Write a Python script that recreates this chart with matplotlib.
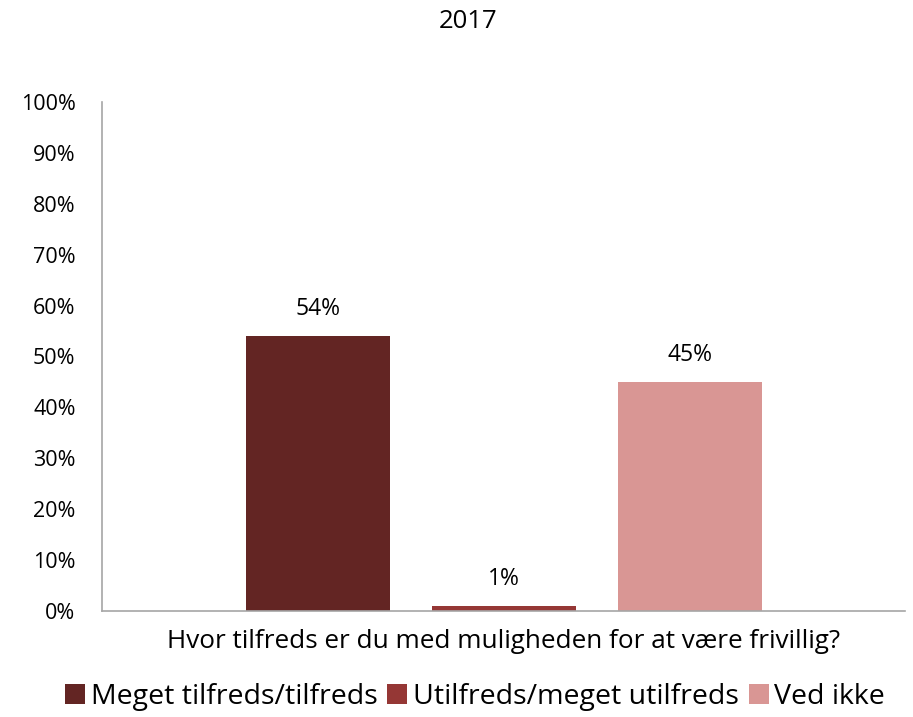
import matplotlib
matplotlib.use("Agg")
import matplotlib.pyplot as plt
from matplotlib.ticker import PercentFormatter

title = "2017"
question = "Hvor tilfreds er du med muligheden for at være frivillig?"
series = ["Meget tilfreds/tilfreds", "Utilfreds/meget utilfreds", "Ved ikke"]
values = [54, 1, 45]
colors = ["#632523", "#953735", "#D99694"]
yticks = [0, 10, 20, 30, 40, 50, 60, 70, 80, 90, 100]

plt.rcParams["font.family"] = ["Open Sans", "DejaVu Sans"]

fig = plt.figure(figsize=(9.13, 7.17), dpi=100)
ax = fig.add_axes([102 / 913, 1 - 611 / 717, 803 / 913, 509 / 717])

width = 144 / 186
positions = [-1, 0, 1]
for pos, val, col, name in zip(positions, values, colors, series):
    ax.bar(pos, val, width=width, color=col, label=name, zorder=2)
    ax.text(pos, val + 3, f"{val}%", ha="center", va="bottom", fontsize=16.5, color="black")

ax.set_xlim(-401.5 / 186, 401.5 / 186)
ax.set_ylim(0, 100)
ax.set_yticks(yticks)
ax.yaxis.set_major_formatter(PercentFormatter(decimals=0))
ax.set_xticks([])
ax.tick_params(axis="y", length=0, labelsize=15.5, pad=19)

for side in ("top", "right"):
    ax.spines[side].set_visible(False)
for side in ("left", "bottom"):
    ax.spines[side].set_color("#A6A6A6")
    ax.spines[side].set_linewidth(1.2)

ax.set_xlabel(question, fontsize=18.8, labelpad=13)
fig.text(468 / 913, 1 - 22 / 717, title, ha="center", va="center", fontsize=18.5)

leg = fig.legend(loc="center", bbox_to_anchor=(475 / 913, 1 - 697 / 717), ncol=3,
                 frameon=False, fontsize=20.5, handlelength=0.7, handleheight=0.7,
                 handletextpad=0.2, columnspacing=0.35)

fig.savefig("out.png", dpi=100)
